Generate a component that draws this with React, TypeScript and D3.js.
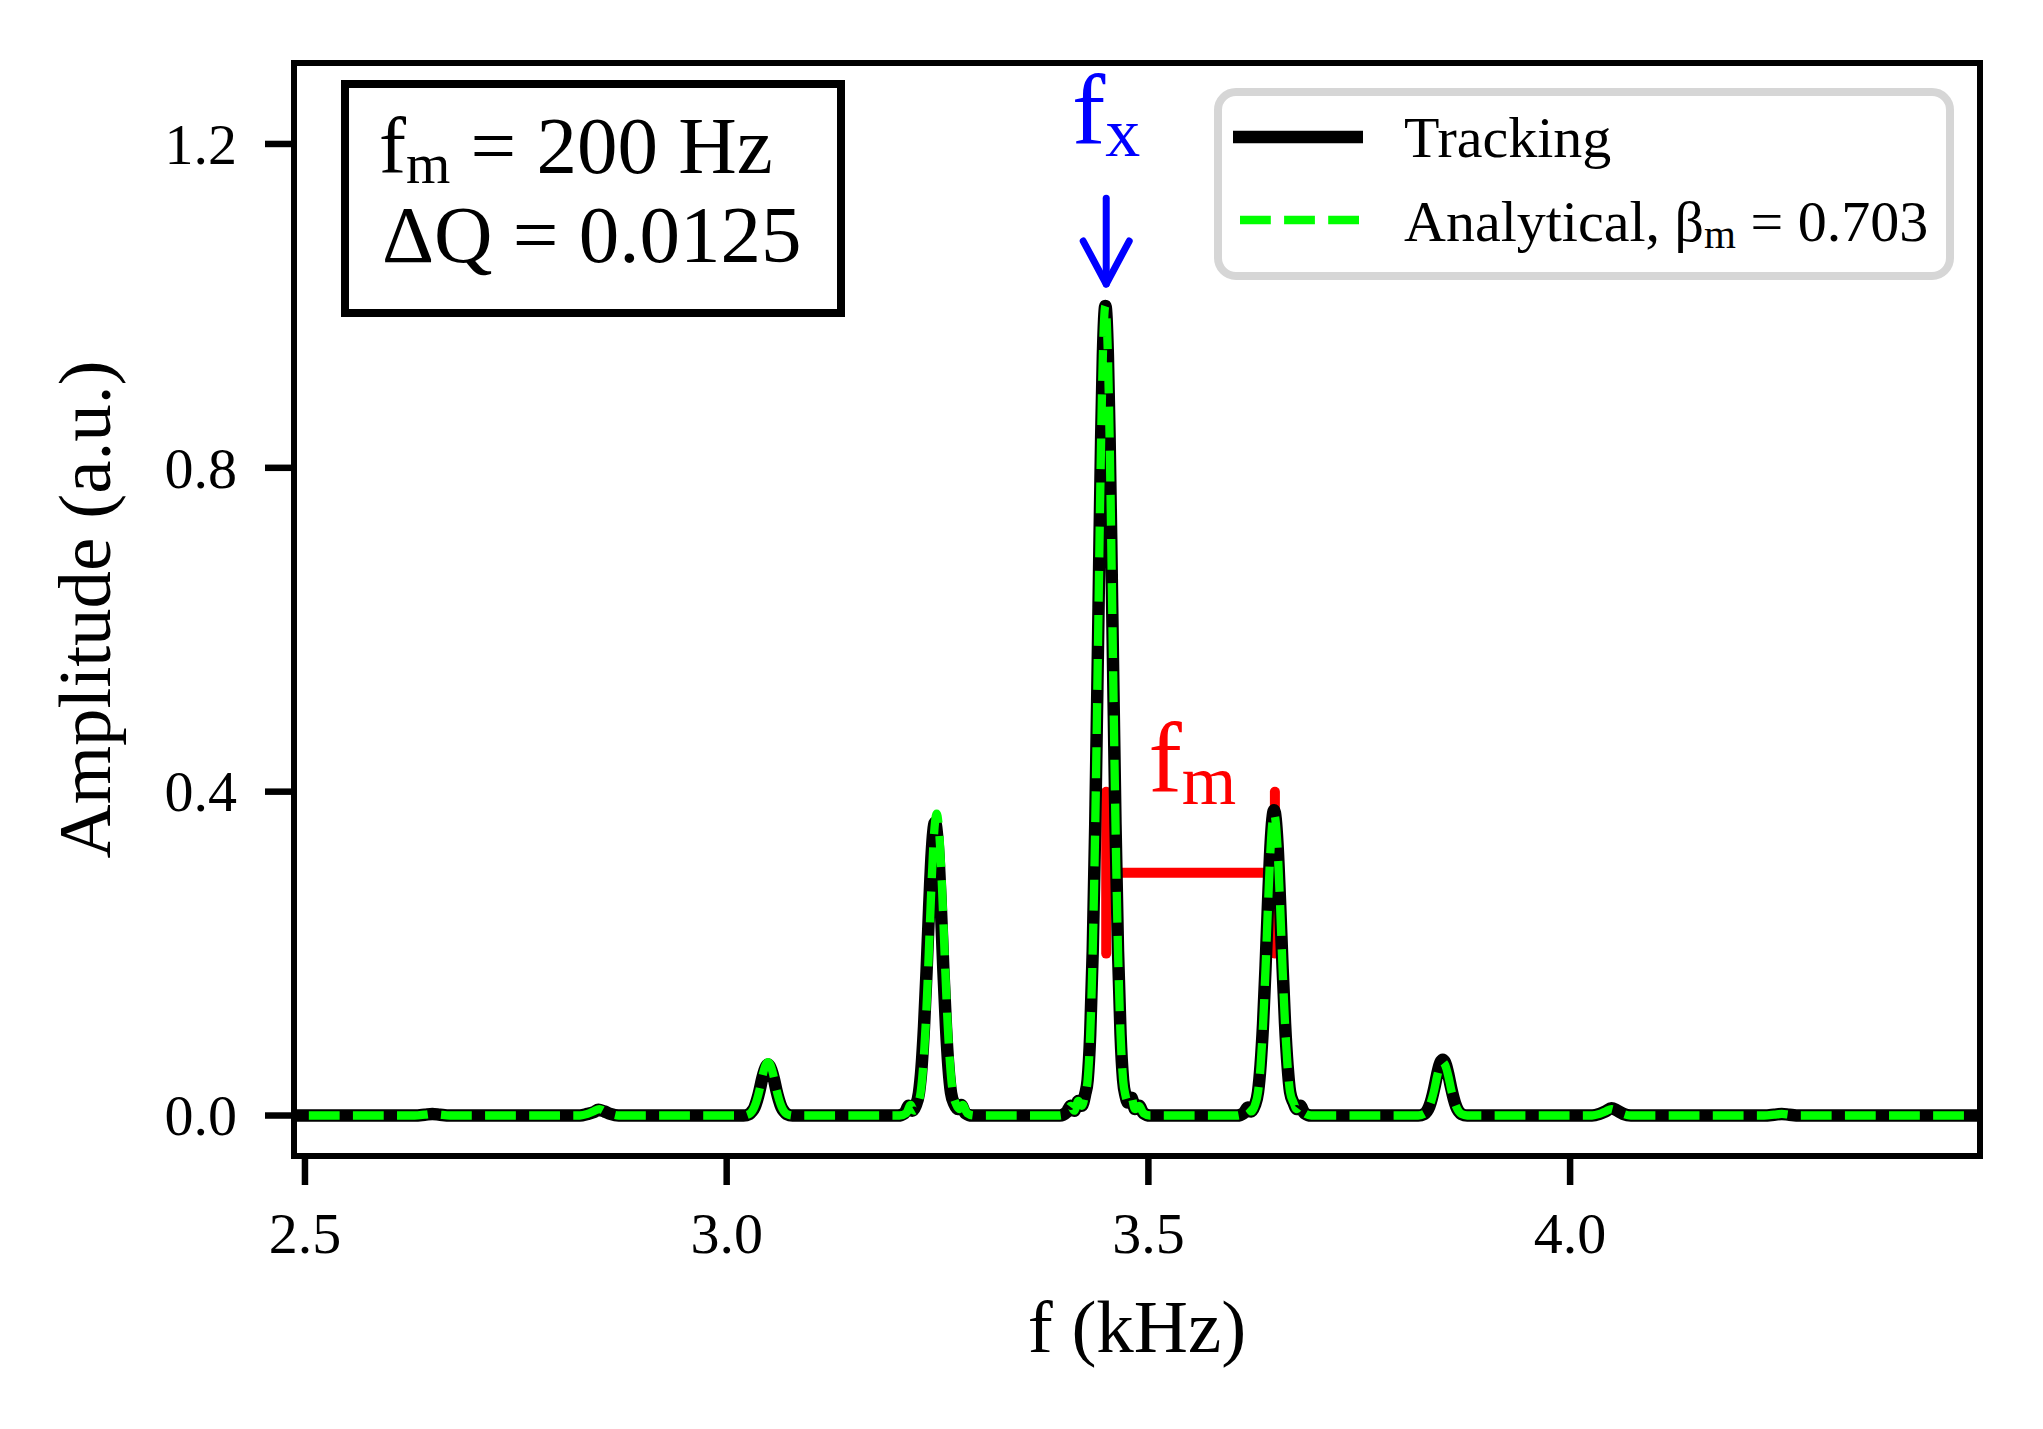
import * as d3 from 'd3'

// spectrum values: [f (kHz), amplitude (a.u.)]
const analyticalPoints: [number, number][] = [
  [2.4, 0], [2.63, 0], [2.642, 0.001], [2.651, 0.002], [2.66, 0.001], [2.672, 0],
  [2.826, 0], [2.835, 0.002], [2.842, 0.005], [2.849, 0.008], [2.856, 0.005], [2.863, 0.002], [2.872, 0],
  [3.02, 0], [3.027, 0.002], [3.03, 0.005], [3.033, 0.011], [3.036, 0.02], [3.039, 0.032], [3.042, 0.047],
  [3.045, 0.059], [3.047, 0.064], [3.049, 0.066], [3.051, 0.064], [3.053, 0.059], [3.056, 0.047],
  [3.059, 0.032], [3.062, 0.02], [3.065, 0.011], [3.068, 0.005], [3.071, 0.002], [3.078, 0],
  [3.205, 0], [3.213, 0.003], [3.218, 0.013], [3.222, 0.006], [3.226, 0.013], [3.23, 0.029], [3.233, 0.061],
  [3.236, 0.113], [3.239, 0.184], [3.242, 0.264], [3.245, 0.333], [3.247, 0.362], [3.249, 0.373],
  [3.251, 0.362], [3.253, 0.333], [3.256, 0.264], [3.259, 0.184], [3.262, 0.113], [3.265, 0.061],
  [3.268, 0.029], [3.272, 0.014], [3.276, 0.008], [3.28, 0.013], [3.285, 0.003], [3.293, 0],
  [3.395, 0], [3.403, 0.004], [3.408, 0.012], [3.412, 0.006], [3.417, 0.018], [3.421, 0.012], [3.425, 0.026],
  [3.428, 0.044], [3.431, 0.1], [3.434, 0.203], [3.437, 0.36], [3.44, 0.563], [3.442, 0.707], [3.444, 0.838],
  [3.446, 0.938], [3.449, 1.0], [3.452, 0.938], [3.454, 0.838], [3.456, 0.707], [3.458, 0.563], [3.461, 0.36],
  [3.464, 0.203], [3.467, 0.1], [3.47, 0.044], [3.473, 0.024], [3.476, 0.016], [3.48, 0.022], [3.484, 0.008],
  [3.489, 0.012], [3.494, 0.003], [3.502, 0],
  [3.605, 0], [3.613, 0.003], [3.618, 0.01], [3.622, 0.005], [3.626, 0.012], [3.63, 0.029], [3.633, 0.061],
  [3.636, 0.113], [3.639, 0.184], [3.642, 0.264], [3.645, 0.333], [3.647, 0.362], [3.649, 0.373],
  [3.651, 0.362], [3.653, 0.333], [3.656, 0.264], [3.659, 0.184], [3.662, 0.113], [3.665, 0.061],
  [3.668, 0.029], [3.672, 0.016], [3.676, 0.008], [3.68, 0.012], [3.685, 0.003], [3.693, 0],
  [3.82, 0], [3.827, 0.002], [3.83, 0.005], [3.833, 0.011], [3.836, 0.02], [3.839, 0.032], [3.842, 0.047],
  [3.845, 0.059], [3.847, 0.064], [3.849, 0.066], [3.851, 0.064], [3.853, 0.059], [3.856, 0.047],
  [3.859, 0.032], [3.862, 0.02], [3.865, 0.011], [3.868, 0.005], [3.871, 0.002], [3.878, 0],
  [4.026, 0], [4.035, 0.002], [4.042, 0.005], [4.049, 0.008], [4.056, 0.005], [4.063, 0.002], [4.072, 0],
  [4.23, 0], [4.242, 0.001], [4.251, 0.002], [4.26, 0.001], [4.272, 0],
  [4.6, 0],
]

const trackingPoints: [number, number][] = [
  [2.4, 0], [2.63, 0], [2.642, 0.001], [2.651, 0.002], [2.66, 0.001], [2.672, 0],
  [2.826, 0], [2.835, 0.002], [2.842, 0.004], [2.848, 0.007], [2.855, 0.005], [2.862, 0.002], [2.872, 0],
  [3.02, 0], [3.027, 0.002], [3.03, 0.005], [3.033, 0.01], [3.036, 0.019], [3.039, 0.031], [3.042, 0.045],
  [3.045, 0.056], [3.047, 0.061], [3.049, 0.063], [3.051, 0.061], [3.053, 0.056], [3.056, 0.045],
  [3.059, 0.031], [3.062, 0.019], [3.065, 0.01], [3.068, 0.005], [3.071, 0.002], [3.078, 0],
  [3.203, 0], [3.211, 0.003], [3.216, 0.012], [3.22, 0.006], [3.224, 0.012], [3.228, 0.028], [3.231, 0.059],
  [3.234, 0.11], [3.237, 0.178], [3.24, 0.256], [3.243, 0.323], [3.245, 0.351], [3.247, 0.362],
  [3.249, 0.351], [3.251, 0.323], [3.254, 0.256], [3.257, 0.178], [3.26, 0.11], [3.263, 0.059],
  [3.266, 0.028], [3.27, 0.014], [3.274, 0.008], [3.278, 0.013], [3.283, 0.003], [3.291, 0],
  [3.395, 0], [3.403, 0.004], [3.408, 0.012], [3.412, 0.006], [3.417, 0.018], [3.421, 0.012], [3.425, 0.026],
  [3.428, 0.044], [3.431, 0.1], [3.434, 0.203], [3.437, 0.36], [3.44, 0.563], [3.442, 0.707], [3.444, 0.838],
  [3.446, 0.938], [3.449, 1.0], [3.452, 0.938], [3.454, 0.838], [3.456, 0.707], [3.458, 0.563], [3.461, 0.36],
  [3.464, 0.203], [3.467, 0.1], [3.47, 0.044], [3.473, 0.024], [3.476, 0.016], [3.48, 0.022], [3.484, 0.008],
  [3.489, 0.012], [3.494, 0.003], [3.502, 0],
  [3.605, 0], [3.613, 0.003], [3.618, 0.01], [3.622, 0.005], [3.626, 0.012], [3.63, 0.029], [3.633, 0.062],
  [3.636, 0.114], [3.639, 0.186], [3.642, 0.267], [3.645, 0.337], [3.647, 0.366], [3.649, 0.377],
  [3.651, 0.366], [3.653, 0.337], [3.656, 0.267], [3.659, 0.186], [3.662, 0.114], [3.665, 0.062],
  [3.668, 0.029], [3.672, 0.016], [3.676, 0.008], [3.68, 0.012], [3.685, 0.003], [3.693, 0],
  [3.82, 0], [3.827, 0.002], [3.83, 0.005], [3.833, 0.011], [3.836, 0.021], [3.839, 0.034], [3.842, 0.049],
  [3.845, 0.062], [3.847, 0.067], [3.849, 0.069], [3.851, 0.067], [3.853, 0.062], [3.856, 0.049],
  [3.859, 0.034], [3.862, 0.021], [3.865, 0.011], [3.868, 0.005], [3.871, 0.002], [3.878, 0],
  [4.026, 0], [4.035, 0.002], [4.042, 0.005], [4.049, 0.009], [4.056, 0.006], [4.063, 0.002], [4.072, 0],
  [4.23, 0], [4.242, 0.001], [4.251, 0.002], [4.26, 0.001], [4.272, 0],
  [4.6, 0],
]

const xTicks = [2.5, 3.0, 3.5, 4.0]
const yTicks = [0.0, 0.4, 0.8, 1.2]

const fx = 3.45
const fmod = 0.2

const W = 2043
const H = 1429
const left = 294
const right = 1980
const top = 63
const bottom = 1156

const FONT = '"Liberation Serif", "Times New Roman", serif'

export default function App() {
  const x = d3.scaleLinear().domain([2.487, 4.486]).range([left, right])
  const y = d3.scaleLinear().domain([-0.05, 1.3]).range([bottom, top])

  const line = d3
    .line<[number, number]>()
    .x(d => x(d[0]))
    .y(d => y(d[1]))
    .curve(d3.curveMonotoneX)

  const tick = 29
  const arrowTop = y(1.133)
  const arrowTip = y(1.027)

  return (
    <svg
      width={W}
      height={H}
      viewBox={`0 0 ${W} ${H}`}
      style={{ position: 'absolute', left: 0, top: 0, background: '#fff' }}
      fontFamily={FONT}
    >
      <defs>
        <clipPath id="plot-area">
          <rect x={left} y={top} width={right - left} height={bottom - top} />
        </clipPath>
      </defs>
      <rect x={0} y={0} width={W} height={H} fill="#fff" />

      {/* f_m annotation, under the curves */}
      <g stroke="#ff0000" strokeWidth={10} strokeLinecap="round">
        <line x1={x(fx)} x2={x(fx)} y1={y(0.2)} y2={y(0.4)} />
        <line x1={x(fx + fmod)} x2={x(fx + fmod)} y1={y(0.2)} y2={y(0.4)} />
        <line x1={x(fx)} x2={x(fx + fmod)} y1={y(0.3)} y2={y(0.3)} strokeLinecap="butt" />
      </g>

      <g clipPath="url(#plot-area)" fill="none">
        <path d={line(trackingPoints) || ''} stroke="#000" strokeWidth={12.5} strokeLinejoin="round" />
        <path
          d={line(analyticalPoints) || ''}
          stroke="#00ff00"
          strokeWidth={8.3}
          strokeDasharray="30.8 13.3"
          strokeLinejoin="round"
        />
      </g>

      {/* spines */}
      <rect x={left} y={top} width={right - left} height={bottom - top} fill="none" stroke="#000" strokeWidth={6} />

      {/* y ticks */}
      {yTicks.map(t => (
        <g key={'y' + t}>
          <line x1={left - tick} x2={left} y1={y(t)} y2={y(t)} stroke="#000" strokeWidth={6.5} />
          <text x={left - tick - 28} y={y(t)} dy="0.34em" fontSize={58} textAnchor="end">
            {t.toFixed(1)}
          </text>
        </g>
      ))}

      {/* x ticks */}
      {xTicks.map(t => (
        <g key={'x' + t}>
          <line x1={x(t)} x2={x(t)} y1={bottom} y2={bottom + tick} stroke="#000" strokeWidth={6.5} />
          <text x={x(t)} y={1253} fontSize={58} textAnchor="middle">
            {t.toFixed(1)}
          </text>
        </g>
      ))}

      <text x={(left + right) / 2} y={1352} fontSize={75} textAnchor="middle">
        f (kHz)
      </text>
      <text
        transform={`translate(110, ${(top + bottom) / 2}) rotate(-90)`}
        fontSize={75}
        textAnchor="middle"
      >
        Amplitude (a.u.)
      </text>

      {/* f_x label and arrow */}
      <text x={x(fx)} y={y(1.2)} fontSize={100} fill="#0000ff" textAnchor="middle">
        f<tspan fontSize={70} dy={12}>x</tspan>
      </text>
      <g stroke="#0000ff" strokeWidth={7} strokeLinecap="round" strokeLinejoin="round" fill="none">
        <line x1={x(fx)} x2={x(fx)} y1={arrowTop} y2={arrowTip} />
        <polyline points={`${x(fx) - 23},${arrowTip - 43} ${x(fx)},${arrowTip} ${x(fx) + 23},${arrowTip - 43}`} />
      </g>

      {/* f_m label */}
      <text x={x(3.5)} y={y(0.4)} fontSize={100} fill="#ff0000">
        f<tspan fontSize={70} dy={12}>m</tspan>
      </text>

      {/* parameter box */}
      <rect x={345} y={84} width={496} height={229} fill="#fff" stroke="#000" strokeWidth={8} />
      <text x={379} y={173} fontSize={81}>
        f<tspan fontSize={57} dy={10}>m</tspan>
        <tspan dy={-10}> = 200 Hz</tspan>
      </text>
      <text x={382} y={262} fontSize={81}>
        ΔQ = 0.0125
      </text>

      {/* legend */}
      <rect x={1218} y={92} width={732} height={184} rx={18} ry={18} fill="#fff" stroke="#d6d6d6" strokeWidth={8} />
      <line x1={1233} x2={1363} y1={137} y2={137} stroke="#000" strokeWidth={12.5} />
      <text x={1404} y={157} fontSize={58}>
        Tracking
      </text>
      <line
        x1={1240}
        x2={1363}
        y1={220}
        y2={220}
        stroke="#00ff00"
        strokeWidth={8.3}
        strokeDasharray="30.8 13.3"
      />
      <text x={1404} y={241} fontSize={58}>
        Analytical, β<tspan fontSize={41} dy={7}>m</tspan>
        <tspan dy={-7}> = 0.703</tspan>
      </text>
    </svg>
  )
}
